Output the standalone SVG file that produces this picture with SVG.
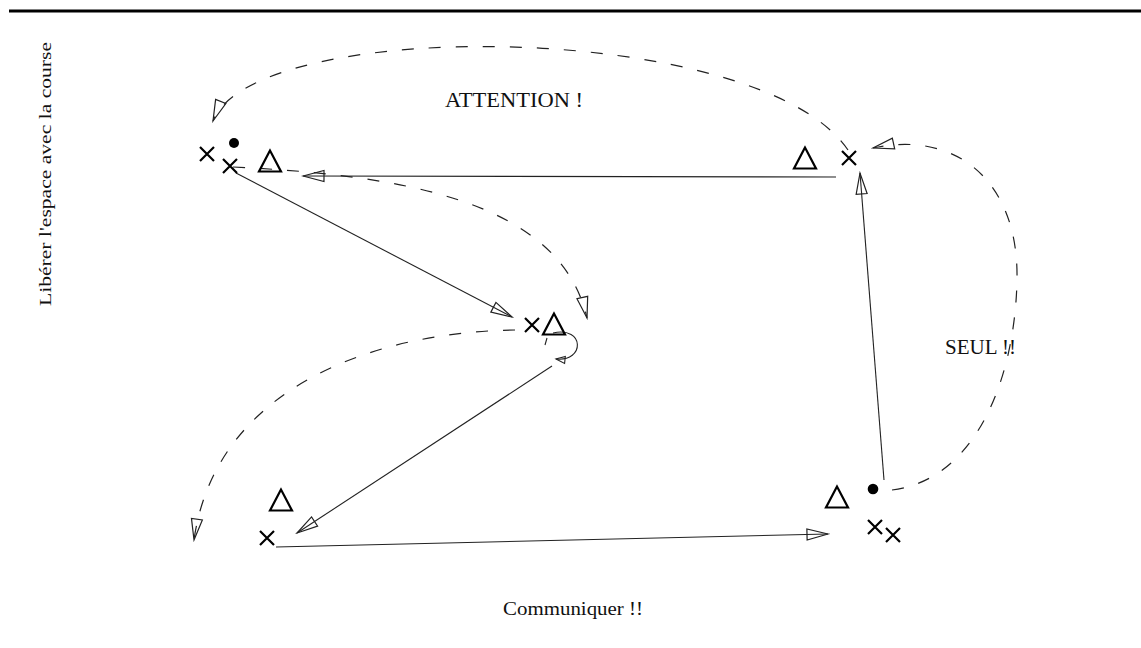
<svg xmlns="http://www.w3.org/2000/svg" width="1141" height="648" viewBox="0 0 1141 648">
<style>
.lbl{font-family:"Liberation Serif","Times New Roman",serif;fill:#111}
.x{stroke:#000;stroke-width:2.2;fill:none}
.tri{stroke:#000;stroke-width:2.2;fill:none;stroke-linejoin:miter}
.dot{fill:#000}
.solid{stroke:#222;stroke-width:1.1;fill:none}
.dash{stroke:#222;stroke-width:1.2;fill:none;stroke-dasharray:12 15}
</style>
<defs>
<marker id="ah" viewBox="-24 -8 26 16" refX="0" refY="0" markerWidth="26" markerHeight="16" markerUnits="userSpaceOnUse" orient="auto">
<path d="M0,0 L-21,-5.5 L-21,5.5 Z" fill="none" stroke="#222" stroke-width="1.2"/>
</marker>
<marker id="ahs" viewBox="-12 -6 14 12" refX="0" refY="0" markerWidth="14" markerHeight="12" markerUnits="userSpaceOnUse" orient="auto">
<path d="M0,0 L-9,-3.5 L-9,3.5 Z" fill="none" stroke="#222" stroke-width="1.1"/>
</marker>
<path id="xm" d="M-7,-7 L7,7 M7,-7 L-7,7"/>
<path id="tm" d="M0,-10.5 L-11,10.5 L11,10.5 Z"/>
</defs>
<rect width="1141" height="648" fill="#fff"/>
<line x1="9" y1="11" x2="1141" y2="11" stroke="#000" stroke-width="3"/>

<g id="connectors">
<path class="dash" d="M848,150 C760,20 255,15 213,121" marker-end="url(#ah)"/>
<line class="solid" x1="836" y1="177" x2="303" y2="176" marker-end="url(#ah)"/>
<path class="dash" d="M233,167 C400,175 560,200 587,318" marker-end="url(#ah)"/>
<line class="solid" x1="236" y1="173" x2="512" y2="317" marker-end="url(#ah)"/>
<path class="solid" d="M545,345 L547,338 M553,333 C585,326 585,362 556,359" marker-end="url(#ahs)"/>
<path class="dash" d="M515,330 C370,332 215,390 194,540" marker-end="url(#ah)"/>
<line class="solid" x1="552" y1="366" x2="297" y2="533" marker-end="url(#ah)"/>
<line class="solid" x1="276" y1="547" x2="828" y2="534" marker-end="url(#ah)"/>
<line class="solid" x1="884" y1="480" x2="860" y2="173" marker-end="url(#ah)"/>
<path class="dash" d="M892,490 C975,480 1015,380 1017,280 C1019,180 955,130 873,148" marker-end="url(#ah)"/>
</g>

<g id="node-tl-x1"><use href="#xm" class="x" x="207" y="154"/></g>
<g id="node-tl-dot"><circle class="dot" cx="234" cy="143" r="5"/></g>
<g id="node-tl-x2"><use href="#xm" class="x" x="230" y="166"/></g>
<g id="node-tl-tri"><use href="#tm" class="tri" x="270" y="161"/></g>

<g id="node-tr-tri"><use href="#tm" class="tri" x="805" y="158"/></g>
<g id="node-tr-x"><use href="#xm" class="x" x="849" y="158"/></g>

<g id="node-m-x"><use href="#xm" class="x" x="532" y="325"/></g>
<g id="node-m-tri"><use href="#tm" class="tri" x="554" y="324"/></g>

<g id="node-bl-tri"><use href="#tm" class="tri" x="281" y="500"/></g>
<g id="node-bl-x"><use href="#xm" class="x" x="267" y="538"/></g>

<g id="node-br-tri"><use href="#tm" class="tri" x="837" y="497"/></g>
<g id="node-br-dot"><circle class="dot" cx="873" cy="489" r="5.3"/></g>
<g id="node-br-x1"><use href="#xm" class="x" x="875" y="527"/></g>
<g id="node-br-x2"><use href="#xm" class="x" x="893" y="535"/></g>

<g id="label-attention"><text class="lbl" x="445" y="107" font-size="20" textLength="138" lengthAdjust="spacingAndGlyphs">ATTENTION !</text></g>
<g id="label-seul"><text class="lbl" x="945" y="354" font-size="20" textLength="71" lengthAdjust="spacingAndGlyphs">SEUL !!</text></g>
<g id="label-communiquer"><text class="lbl" x="503" y="615" font-size="19" textLength="140" lengthAdjust="spacingAndGlyphs">Communiquer !!</text></g>
<g id="label-liberer"><text class="lbl" transform="translate(51,306) rotate(-90)" x="0" y="0" font-size="17" textLength="264" lengthAdjust="spacingAndGlyphs">Libérer l'espace avec la course</text></g>
</svg>
